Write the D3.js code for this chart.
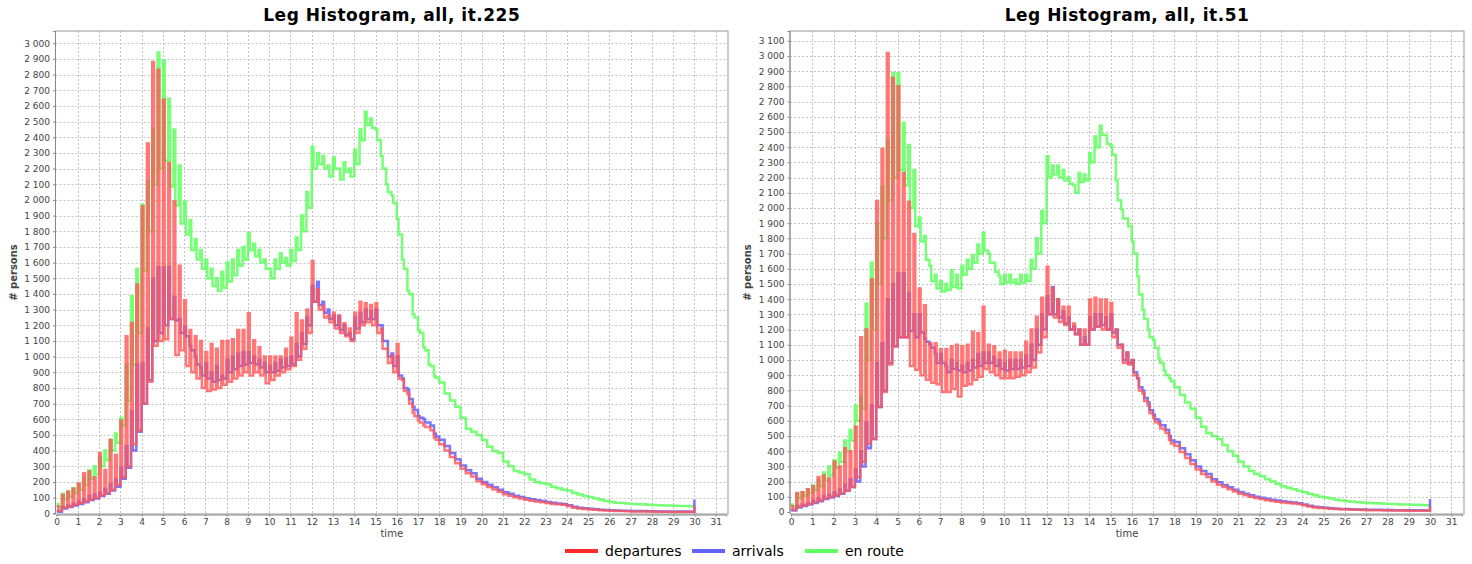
<!DOCTYPE html>
<html>
<head>
<meta charset="utf-8">
<script src="https://cdn.jsdelivr.net/npm/d3@7"></script>
<style>
  body { margin: 0; background: #fff; }
  svg { display: block; font-family: "DejaVu Sans", sans-serif; }
</style>
</head>
<body>
<svg id="chart" width="1472" height="564"></svg>
<script>
// MATSim leg histogram, 5 minute bins from 0 to 30 h.
// Values are read per 15 minute slot (slot k = k/4 h): the first 5 minute bin of
// a slot is the "peak" bin, the other two are the "base" bins.
// Base arrays cover 0 - 17.75 h; later slots have no spike, base = peak.
// The last entry of each peak array is the final bin at 30 h.

var binMinutes = 5;
var seriesNames = ['departures', 'arrivals', 'en route'];

// ---- iteration 225 ----
var depPeak225 = [
  45, 117, 138, 157, 190, 255, 266, 230,
  383, 276, 468, 372, 593, 1130, 1214, 1460,
  1960, 2360, 2880, 2830, 2640, 2235, 1990, 1580,
  1360, 1170, 1130, 1100, 1030, 1080, 1050, 1100,
  1100, 1110, 1170, 1170, 1276, 1105, 1060, 1000,
  1000, 1000, 1000, 1050, 1120, 1277, 1230, 1300,
  1610, 1430, 1325, 1260, 1280, 1260, 1213, 1180,
  1280, 1350, 1340, 1330, 1340, 1180, 1050, 1000,
  1080, 850, 760, 640, 590, 560, 550, 480,
  440, 400, 360, 320, 285, 255, 235, 205,
  185, 168, 152, 138, 122, 112, 102, 94,
  86, 80, 75, 70, 65, 60, 58, 55,
  46, 36, 31, 28, 25, 22, 20, 18,
  16, 15, 14, 13, 12, 12, 11, 11,
  10, 10, 10, 9, 9, 9, 8, 8,
  45
];
var depBase225 = [
  15, 35, 45, 55, 65, 75, 90, 100,
  115, 130, 150, 180, 230, 300, 440, 530,
  700, 840, 1070, 1100, 1110, 1240, 1010, 1040,
  940, 900, 860, 800, 780, 790, 800, 820,
  840, 860, 880, 900, 880, 900, 880, 830,
  850, 880, 900, 920, 940, 980, 1050, 1150,
  1350, 1300, 1250, 1220, 1180, 1150, 1130, 1100,
  1150, 1200, 1220, 1200, 1150, 1050, 960, 900,
  860, 780, 700, 620, 580, 550, 530, 470
];
var arrPeak225 = [
  15, 40, 50, 60, 75, 90, 110, 120,
  135, 155, 185, 215, 290, 430, 650, 950,
  960, 1180, 1500, 1570, 1570, 1570, 1380, 1240,
  1190, 1070, 1000, 930, 960, 900, 940, 880,
  980, 1000, 1020, 1030, 1030, 1000, 980, 960,
  940, 960, 980, 990, 1000, 1080, 1150, 1250,
  1450, 1478, 1350, 1300, 1260, 1260, 1200, 1150,
  1250, 1280, 1300, 1290, 1300, 1200, 1100, 1020,
  1000, 860, 790, 680, 620, 600, 580, 510,
  470, 430, 385, 345, 305, 275, 255, 220,
  200, 182, 166, 150, 135, 124, 112, 104,
  96, 90, 84, 78, 72, 67, 63, 60,
  52, 42, 36, 32, 29, 26, 23, 21,
  19, 18, 17, 16, 15, 14, 14, 13,
  13, 12, 12, 12, 11, 11, 11, 10,
  88
];
var arrBase225 = [
  10, 30, 40, 50, 60, 70, 85, 95,
  110, 125, 145, 170, 220, 290, 400, 520,
  700, 850, 1100, 1150, 1200, 1240, 1230, 1150,
  1130, 1040, 950, 880, 860, 840, 850, 860,
  900, 920, 940, 950, 960, 950, 930, 900,
  900, 910, 930, 940, 950, 1000, 1080, 1200,
  1350, 1330, 1280, 1240, 1200, 1170, 1140, 1110,
  1180, 1220, 1240, 1240, 1200, 1100, 1000, 940,
  880, 800, 730, 660, 610, 580, 560, 490
];
var enPeak225 = [
  60, 125, 140, 160, 185, 230, 275, 300,
  360, 400, 470, 510, 610, 950, 1385, 1560,
  1970, 2120, 2450, 2940, 2890, 2645, 2450, 2220,
  1990, 1870, 1750, 1680, 1620, 1560, 1500, 1540,
  1600, 1620, 1680, 1700, 1790, 1720, 1680, 1620,
  1560, 1620, 1660, 1630, 1680, 1760, 1900, 2050,
  2340, 2300, 2280, 2220, 2270, 2200, 2240, 2200,
  2320, 2450, 2563, 2520, 2450, 2280, 2100, 2030,
  1880, 1620, 1420, 1270, 1170, 1060, 950, 875,
  835, 765, 720, 680, 610, 540, 520, 500,
  468, 425, 398, 385, 330, 300, 270, 260,
  250, 215, 200, 192, 185, 170, 160, 150,
  145, 130, 120, 110, 104, 95, 86, 78,
  72, 68, 65, 62, 60, 58, 57, 55,
  53, 52, 50, 49, 48, 47, 46, 45,
  45
];
var enBase225 = [
  40, 90, 105, 130, 150, 180, 220, 250,
  300, 340, 400, 450, 560, 720, 950, 1150,
  1550, 1800, 2100, 2200, 2250, 2085, 1965, 1850,
  1780, 1680, 1620, 1560, 1500, 1450, 1420, 1440,
  1480, 1520, 1580, 1620, 1680, 1640, 1600, 1560,
  1500, 1560, 1600, 1580, 1610, 1680, 1800, 1950,
  2200, 2230, 2200, 2150, 2200, 2130, 2180, 2150,
  2230, 2380, 2480, 2460, 2380, 2200, 2050, 1980,
  1780, 1560, 1400, 1250, 1150, 1040, 940, 865
];

// ---- iteration 51 ----
var depPeak51 = [
  40, 125, 130, 150, 170, 230, 240, 220,
  330, 300, 420, 400, 560, 1150, 1200, 1530,
  2045, 2390, 3020, 2855, 2800, 2230, 2040, 1828,
  1470, 1360, 1110, 1110, 1070, 1070, 1090, 1100,
  1090, 1100, 1185, 1175, 1350, 1100, 1090, 1050,
  1060, 1050, 1050, 1050, 1120, 1200, 1284, 1410,
  1613, 1475, 1400, 1350, 1350, 1240, 1200, 1200,
  1398, 1410, 1398, 1398, 1375, 1200, 1100, 1050,
  1000, 880, 780, 700, 620, 580, 545, 475,
  435, 395, 355, 315, 280, 250, 230, 200,
  180, 165, 150, 135, 120, 110, 100, 92,
  85, 78, 73, 68, 63, 59, 56, 53,
  45, 36, 30, 27, 24, 22, 20, 18,
  16, 15, 14, 13, 12, 12, 11, 11,
  10, 10, 10, 9, 9, 9, 8, 8,
  40
];
var depBase51 = [
  15, 35, 45, 55, 65, 75, 90, 100,
  110, 125, 140, 165, 230, 330, 450, 480,
  690, 790, 970, 1090, 1150, 1150, 960, 935,
  900, 870, 850, 840, 790, 790, 810, 760,
  830, 840, 870, 890, 940, 920, 900, 880,
  880, 880, 890, 900, 920, 950, 1050, 1150,
  1300, 1280, 1250, 1230, 1200, 1170, 1100, 1100,
  1200, 1220, 1200, 1200, 1150, 1080, 980, 970,
  900, 800, 730, 650, 590, 550, 520, 450
];
var arrPeak51 = [
  15, 40, 50, 60, 75, 90, 105, 115,
  130, 150, 180, 215, 280, 400, 590, 700,
  980, 1110, 1400, 1500, 1570, 1570, 1440, 1300,
  1300, 1140, 1100, 1040, 1040, 960, 1000, 980,
  960, 980, 1000, 1040, 1050, 1050, 1020, 1000,
  980, 1000, 1000, 1000, 1030, 1100, 1200, 1300,
  1420, 1480, 1400, 1320, 1280, 1220, 1200, 1150,
  1280, 1300, 1300, 1280, 1300, 1200, 1100, 1050,
  1000, 880, 800, 720, 640, 600, 570, 500,
  460, 420, 380, 340, 300, 270, 250, 215,
  195, 178, 162, 146, 132, 120, 110, 100,
  94, 87, 81, 76, 70, 65, 62, 58,
  50, 41, 35, 31, 28, 25, 22, 20,
  19, 18, 17, 16, 15, 14, 14, 13,
  13, 12, 12, 12, 11, 11, 11, 10,
  85
];
var arrBase51 = [
  10, 30, 40, 50, 60, 70, 85, 95,
  105, 120, 140, 165, 200, 300, 420, 480,
  690, 800, 980, 1090, 1150, 1150, 1190, 1150,
  1180, 1120, 1080, 980, 980, 920, 940, 930,
  920, 930, 950, 960, 980, 980, 960, 940,
  930, 940, 940, 950, 960, 1000, 1100, 1200,
  1300, 1300, 1280, 1240, 1200, 1170, 1100, 1100,
  1200, 1220, 1230, 1200, 1180, 1100, 1000, 980,
  920, 820, 750, 670, 610, 570, 540, 470
];
var enPeak51 = [
  50, 120, 130, 150, 175, 210, 260, 300,
  340, 390, 470, 540, 700, 760, 1370, 1640,
  1900, 2140, 2447, 2887, 2887, 2561, 2414, 2250,
  1936, 1816, 1620, 1560, 1520, 1500, 1590, 1560,
  1620, 1660, 1690, 1760, 1837, 1700, 1640, 1550,
  1560, 1560, 1530, 1560, 1560, 1660, 1800, 1980,
  2340, 2280, 2280, 2250, 2200, 2150, 2230, 2220,
  2360, 2470, 2540, 2480, 2410, 2180, 1990, 1930,
  1780, 1550, 1330, 1200, 1130, 1010, 930, 880,
  820, 770, 720, 680, 620, 560, 520, 500,
  480, 440, 400, 370, 330, 300, 270, 250,
  235, 215, 200, 185, 170, 160, 150, 140,
  130, 120, 110, 100, 95, 88, 80, 75,
  70, 67, 64, 62, 60, 58, 57, 55,
  53, 52, 50, 49, 48, 47, 46, 45,
  45
];
var enBase51 = [
  35, 90, 105, 125, 145, 170, 210, 240,
  290, 330, 400, 470, 600, 680, 1000, 1200,
  1500, 1800, 2050, 2200, 2250, 2150, 2000, 1880,
  1780, 1660, 1520, 1470, 1450, 1460, 1480, 1470,
  1560, 1600, 1640, 1700, 1720, 1640, 1580, 1500,
  1510, 1510, 1500, 1510, 1520, 1600, 1700, 1900,
  2200, 2220, 2200, 2180, 2160, 2100, 2170, 2180,
  2300, 2400, 2480, 2420, 2350, 2050, 1930, 1880,
  1700, 1430, 1270, 1150, 1080, 980, 900, 860
];

var xTicks = d3.range(0, 32);
var seriesColors = ['#ff5555', '#5555ff', '#55ff55'];
var legendColors = ['#ff2a2a', '#6262ff', '#62ff62'];

// 15 minute slots -> 5 minute bins
function toBins(peak, base) {
  var out = [];
  for (var k = 0; k < peak.length - 1; k++) {
    var b = k < base.length ? base[k] : peak[k];
    out.push(peak[k], b, b);
  }
  out.push(peak[peak.length - 1]);
  return out.map(function (v, i) {
    return { t: i * binMinutes / 60, v: v };
  });
}

var panels = [
  {
    title: 'Leg Histogram, all, it.225',
    left: 55.5, right: 728, x0: 56.6, pxPerHour: 21.26,
    yZero: 513.3, yTop: 31, yMax: 3078,
    series: [
      toBins(depPeak225, depBase225),
      toBins(arrPeak225, arrBase225),
      toBins(enPeak225, enBase225)
    ]
  },
  {
    title: 'Leg Histogram, all, it.51',
    left: 790, right: 1464, x0: 791, pxPerHour: 21.3,
    yZero: 512, yTop: 31, yMax: 3164,
    series: [
      toBins(depPeak51, depBase51),
      toBins(arrPeak51, arrBase51),
      toBins(enPeak51, enBase51)
    ]
  }
];

var svg = d3.select('#chart');
svg.append('rect').attr('width', 1472).attr('height', 564).attr('fill', '#fff');

var fmt = function (v) {
  return d3.format(',')(v).replace(/,/g, '\u00a0');
};

panels.forEach(function (p, pi) {
  var top = 31, bottom = 514;
  var x = d3.scaleLinear().domain([0, 31.5])
    .range([p.x0, p.x0 + 31.5 * p.pxPerHour]);
  var y = d3.scaleLinear().domain([0, p.yMax]).range([p.yZero, p.yTop]);
  var g = svg.append('g');
  var cx = (p.left + p.right) / 2;

  var clipId = 'clip' + pi;
  g.append('clipPath').attr('id', clipId)
    .append('rect')
    .attr('x', p.left).attr('y', top)
    .attr('width', p.right - p.left).attr('height', bottom - top);

  // grid
  var yTicks = d3.range(0, p.yMax, 100);
  g.append('g').selectAll('line').data(yTicks.slice(1)).enter().append('line')
    .attr('x1', p.left).attr('x2', p.right)
    .attr('y1', function (d) { return Math.round(y(d)) + 0.5; })
    .attr('y2', function (d) { return Math.round(y(d)) + 0.5; })
    .attr('stroke', '#c4c4c4').attr('stroke-width', 1)
    .attr('stroke-dasharray', '2,2');
  g.append('g').selectAll('line').data(xTicks.slice(1)).enter().append('line')
    .attr('x1', function (d) { return Math.round(x(d)) + 0.5; })
    .attr('x2', function (d) { return Math.round(x(d)) + 0.5; })
    .attr('y1', top).attr('y2', bottom)
    .attr('stroke', '#c4c4c4').attr('stroke-width', 1)
    .attr('stroke-dasharray', '2,2');

  // series, en route first so departures end up on top
  var line = d3.line()
    .x(function (d) { return x(d.t); })
    .y(function (d) { return y(d.v); })
    .curve(d3.curveStepAfter);
  var lines = g.append('g').attr('clip-path', 'url(#' + clipId + ')');
  [2, 1, 0].forEach(function (s) {
    lines.append('path')
      .datum(p.series[s])
      .attr('d', line)
      .attr('fill', 'none')
      .attr('stroke', seriesColors[s])
      .attr('stroke-opacity', 0.8)
      .attr('stroke-width', 2.5)
      .attr('stroke-linejoin', 'miter');
  });

  // frame
  g.append('rect')
    .attr('x', p.left).attr('y', top)
    .attr('width', p.right - p.left).attr('height', bottom - top)
    .attr('fill', 'none').attr('stroke', '#999').attr('stroke-width', 1);

  // axes
  var yAxis = d3.axisLeft(y).tickValues(yTicks).tickFormat(fmt)
    .tickSize(2).tickPadding(3);
  var ya = g.append('g').attr('transform', 'translate(' + (p.left - 0.5) + ',0)')
    .call(yAxis);
  var xAxis = d3.axisBottom(x).tickValues(xTicks).tickSize(2).tickPadding(2);
  var xa = g.append('g').attr('transform', 'translate(0,' + (bottom + 0.5) + ')')
    .call(xAxis);
  [ya, xa].forEach(function (a) {
    a.select('.domain').attr('stroke', '#888');
    a.selectAll('.tick line').attr('stroke', '#888');
    a.selectAll('.tick text').attr('fill', '#444')
      .style('font-family', '"DejaVu Sans", sans-serif')
      .style('font-size', '9px');
  });

  // titles
  g.append('text').attr('x', cx).attr('y', 21)
    .attr('text-anchor', 'middle')
    .style('font-weight', 'bold').style('font-size', '17px')
    .style('letter-spacing', '0.5px')
    .text(p.title);
  g.append('text').attr('x', cx).attr('y', 537)
    .attr('text-anchor', 'middle').attr('fill', '#444')
    .style('font-size', '10px')
    .text('time');
  g.append('text')
    .attr('transform', 'translate(' + (p.left - 39) + ',' + ((top + bottom) / 2) + ') rotate(-90)')
    .attr('text-anchor', 'middle').attr('fill', '#444')
    .style('font-weight', 'bold').style('font-size', '10px')
    .text('# persons');
});

// legend
var legendX = [565, 692, 805];
var legend = svg.append('g');
seriesNames.forEach(function (name, i) {
  legend.append('line')
    .attr('x1', legendX[i]).attr('x2', legendX[i] + 33)
    .attr('y1', 551).attr('y2', 551)
    .attr('stroke', legendColors[i]).attr('stroke-width', 4);
  legend.append('text')
    .attr('x', legendX[i] + 40).attr('y', 556)
    .style('font-size', '14px')
    .text(name);
});
</script>
</body>
</html>
